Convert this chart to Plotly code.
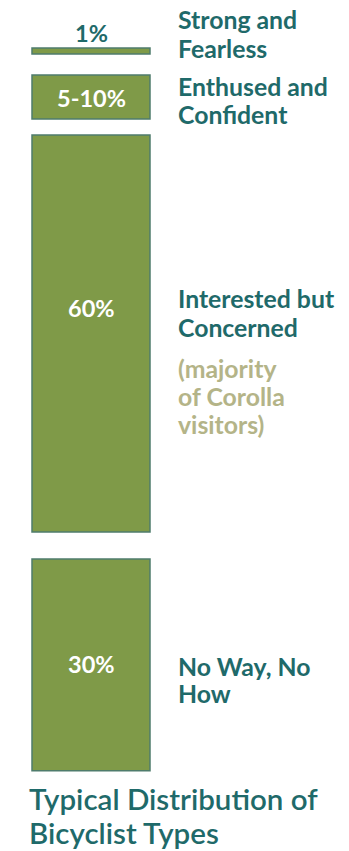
import plotly.graph_objects as go

# Data
types = [["Strong and", "Fearless"], ["Enthused and", "Confident"],
         ["Interested but", "Concerned"], ["No Way, No", "How"]]
share_labels = ["1%", "5-10%", "60%", "30%"]
bar_extent = [0.9, 6.65, 60, 32]   # visual box sizes (percent units)
note = ["(majority", "of Corolla", "visitors)"]
title = ["Typical Distribution of", "Bicyclist Types"]

W, H = 349, 851
unit = 397 / 60.0          # px per percent unit
top_offset = 7.25
gaps = [3.2, 2.4, 4.1]

bases = []
b = top_offset
for i, h in enumerate(bar_extent):
    bases.append(b)
    b += h
    if i < len(gaps):
        b += gaps[i]

FILL = "#7f9a48"
EDGE = "#4f7c6c"
TEAL = "#1f6a6a"
OLIVE = "#b4b488"
FONT = "Lato"

fig = go.Figure()
fig.add_trace(go.Bar(
    x=[0] * len(bar_extent), y=bar_extent, base=bases, width=1,
    marker=dict(color=FILL, line=dict(color=EDGE, width=1.5)),
    hoverinfo="skip", showlegend=False,
))

def py(px):
    return 1 - px / H

annotations = []
# percentage labels
pct_y = [32.5, 98.5, 308, 663.5]
pct_col = [TEAL, "white", "white", "white"]
for lab, yy, c in zip(share_labels, pct_y, pct_col):
    annotations.append(dict(x=0, xref="x", y=py(yy), yref="paper", text="<b>%s</b>" % lab,
                            showarrow=False, font=dict(family=FONT, size=23.5, color=c),
                            xanchor="center", yanchor="middle"))

def add_lines(lines, ys, color, size, x_px, bold=True, weight=None):
    for ln, yy in zip(lines, ys):
        txt = "<b>%s</b>" % ln if bold else ln
        f = dict(family=FONT, size=size, color=color)
        if weight:
            f["weight"] = weight
        annotations.append(dict(x=x_px / W, xref="paper", y=py(yy), yref="paper", text=txt,
                                showarrow=False, align="left", font=f, borderpad=0,
                                xanchor="left", yanchor="middle"))

LX = 177
type_y = [[20, 48], [86.5, 114.5], [299, 327], [666, 693.5]]
for lines, ys in zip(types, type_y):
    add_lines(lines, ys, TEAL, 24.8, LX)
add_lines(note, [368, 396, 424], OLIVE, 24.8, LX)
add_lines(title, [798.5, 832.5], TEAL, 29.5, 28, bold=False, weight=600)

bw = 118.0
cx = 91.0
fig.update_layout(
    width=W, height=H, margin=dict(l=0, r=0, t=0, b=0),
    paper_bgcolor="white", plot_bgcolor="white",
    xaxis=dict(range=[-cx / bw, (W - cx) / bw], visible=False, fixedrange=True),
    yaxis=dict(range=[H / unit, 0], visible=False, fixedrange=True),
    annotations=annotations,
)
fig.write_html("out.html")
